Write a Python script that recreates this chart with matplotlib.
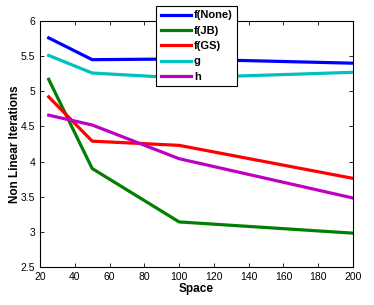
import matplotlib
matplotlib.use("Agg")
import matplotlib.pyplot as plt

# data
space = [25, 50, 100, 200]
f_none = [5.76, 5.45, 5.46, 5.40]
f_jb = [5.17, 3.90, 3.14, 2.98]
f_gs = [4.92, 4.29, 4.23, 3.76]
g = [5.51, 5.26, 5.19, 5.27]
h = [4.66, 4.52, 4.04, 3.48]

series = [
    ("f(None)", f_none, "#0000ff"),
    ("f(JB)", f_jb, "#008000"),
    ("f(GS)", f_gs, "#ff0000"),
    ("g", g, "#00c0c0"),
    ("h", h, "#c000c0"),
]

plt.rcParams["font.family"] = ["Liberation Sans", "DejaVu Sans"]

fig = plt.figure(figsize=(3.74, 3.05), dpi=100)
ax = fig.add_axes([0.107, 0.125, 0.837, 0.806])

for name, vals, col in series:
    ax.plot(space, vals, color=col, lw=2.3, label=name)

ax.set_xlim(20, 200)
ax.set_ylim(2.5, 6)
ax.set_xticks(range(20, 201, 20))
ax.set_yticks([2.5, 3, 3.5, 4, 4.5, 5, 5.5, 6])
ax.set_yticklabels(["2.5", "3", "3.5", "4", "4.5", "5", "5.5", "6"])
ax.tick_params(direction="in", top=True, right=True, labelsize=7.5, length=3, width=0.6)
for s in ax.spines.values():
    s.set_linewidth(0.8)

ax.set_xlabel("Space", fontsize=8.5, fontweight="bold", labelpad=1)
ax.set_ylabel("Non Linear Iterations", fontsize=8.5, fontweight="bold", labelpad=0)

leg = ax.legend(loc="upper left", bbox_to_anchor=(0.371, 1.061),
                prop={"weight": "bold", "size": 8}, fancybox=False, framealpha=1,
                edgecolor="black", handlelength=2.7, handletextpad=0.3,
                labelspacing=0.48, borderpad=0.4, borderaxespad=0)
leg.get_frame().set_linewidth(0.8)

fig.savefig("out.png", dpi=100, facecolor="white")
